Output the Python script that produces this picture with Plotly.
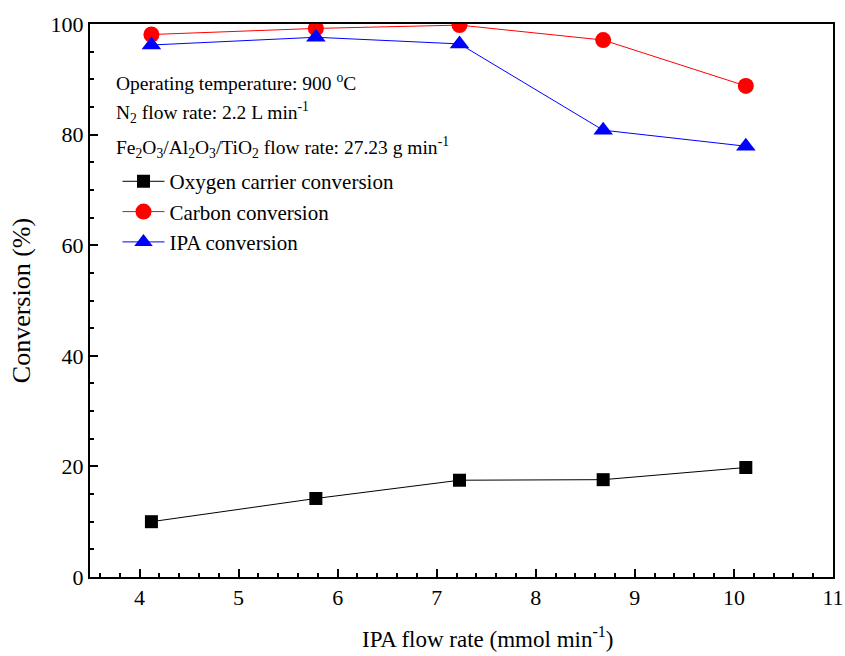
import plotly.graph_objects as go

flow_rate = [4.12, 5.78, 7.23, 8.68, 10.12]
oxygen_carrier = [10.0, 14.2, 17.5, 17.6, 19.8]
carbon = [98.1, 99.2, 99.8, 97.1, 88.8]
ipa = [96.2, 97.6, 96.4, 80.8, 77.9]

FONT = "Liberation Serif, Times New Roman, serif"

fig = go.Figure()
fig.add_trace(go.Scatter(x=flow_rate, y=oxygen_carrier, mode="lines+markers",
                         name="Oxygen carrier conversion",
                         line=dict(color="black", width=1),
                         marker=dict(symbol="square", size=13, color="black")))
fig.add_trace(go.Scatter(x=flow_rate, y=carbon, mode="lines+markers",
                         name="Carbon conversion",
                         line=dict(color="#ff0000", width=1),
                         marker=dict(symbol="circle", size=16, color="#ff0000")))
fig.add_trace(go.Scatter(x=flow_rate, y=ipa, mode="lines+markers",
                         name="IPA conversion",
                         line=dict(color="#0000ff", width=1),
                         marker=dict(symbol="triangle-up", size=17, color="#0000ff")))

axis_common = dict(showline=True, linecolor="black", linewidth=2, mirror=True,
                   ticks="inside", tickcolor="black", tickwidth=2, ticklen=8,
                   showgrid=False, zeroline=False, automargin=False,
                   tickfont=dict(family=FONT, size=22, color="black"),
                   minor=dict(ticks="inside", ticklen=4, tickwidth=2, tickcolor="black"))

fig.update_xaxes(range=[3.5, 11], dtick=1, tick0=4, **axis_common)
fig.update_yaxes(range=[0, 100], dtick=20,
                 title=dict(text="Conversion (%)",
                            font=dict(family=FONT, size=26, color="black"), standoff=12),
                 **axis_common)

# x-axis title (offset to the right as in the original)
fig.add_annotation(text="IPA flow rate (mmol min<sup>-1</sup>)", x=0.536, y=-0.1085,
                   xref="paper", yref="paper", xanchor="center", yanchor="middle",
                   showarrow=False, font=dict(family=FONT, size=23, color="black"))

annots = [
    ("Operating temperature: 900 <sup>o</sup>C", 0.895),
    ("N<sub>2</sub> flow rate: 2.2 L min<sup>-1</sup>", 0.840),
    ("Fe<sub>2</sub>O<sub>3</sub>/Al<sub>2</sub>O<sub>3</sub>/TiO<sub>2</sub> flow rate: 27.23 g min<sup>-1</sup>", 0.776),
]
for txt, yy in annots:
    fig.add_annotation(text=txt, x=0.032, y=yy, xref="paper", yref="paper",
                       xanchor="left", yanchor="middle", showarrow=False,
                       font=dict(family=FONT, size=19.5, color="black"))

fig.update_layout(
    width=845, height=656,
    margin=dict(l=90, r=12, t=24, b=79),
    paper_bgcolor="white", plot_bgcolor="white",
    font=dict(family=FONT, color="black"),
    legend=dict(x=0.037, y=0.752, xanchor="left", yanchor="top",
                bgcolor="rgba(0,0,0,0)", font=dict(family=FONT, size=21, color="black"),
                tracegroupgap=0, itemwidth=42),
)

fig.write_html("out.html", config={"displayModeBar": False},
               post_script="document.body.style.margin='0';document.body.style.overflow='hidden';")
